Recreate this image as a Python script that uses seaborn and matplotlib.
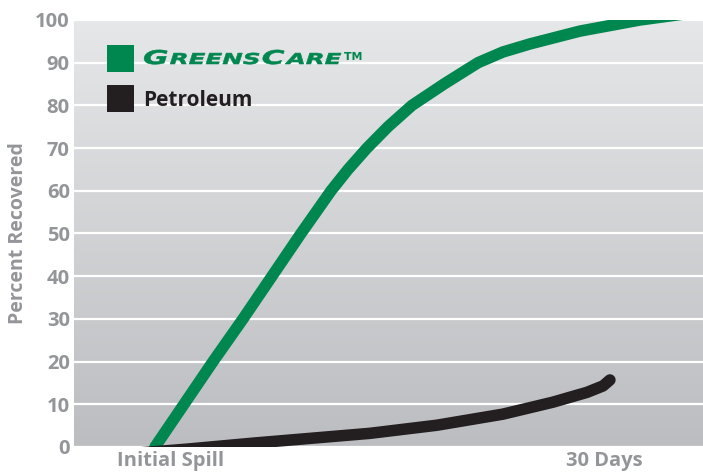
import numpy as np
import pandas as pd
import matplotlib.pyplot as plt
import seaborn as sns
from matplotlib.patches import Rectangle, PathPatch
from matplotlib.textpath import TextPath
from matplotlib.font_manager import FontProperties
from matplotlib.transforms import Affine2D

# Dados (dias desde o derramamento, % recuperado)
dias_greens = [-1.11, 0.90, 2.91, 4.99, 7.00, 9.01, 11.09, 12.27, 13.58, 15.04, 16.70,
               18.92, 21.28, 23.00, 24.88, 28.34, 32.50, 36.87]
rec_greens = [0, 10, 20, 30, 40, 50, 60, 65, 70, 75, 80, 85, 90, 92.5, 94.4, 97.4, 100, 102]

dias_petro = [-2.63, 1.11, 5.68, 13.79, 18.43, 23.01, 26.47, 28.83, 29.94, 30.42]
rec_petro = [-1.5, -0.5, 0.9, 3.2, 5.1, 7.7, 10.5, 12.8, 14.3, 15.7]

ticks_x = [0, 30]
rotulos_x = ['Initial Spill', '30 Days']
ticks_y = list(range(0, 101, 10))

verde = '#00874f'
preto = '#231f20'
cinza = '#939598'

df = pd.concat([
    pd.DataFrame({'Dias': dias_greens, 'Recuperado': rec_greens, 'Produto': 'GreensCare'}),
    pd.DataFrame({'Dias': dias_petro, 'Recuperado': rec_petro, 'Produto': 'Petroleum'}),
])

sns.set_style('white')
plt.rcParams['font.family'] = ['Open Sans', 'DejaVu Sans']

fig = plt.figure(figsize=(7.03, 4.75), dpi=100)
ax = fig.add_axes([74 / 703, 28 / 475, 629 / 703, 427 / 475])

xmin, xmax = -6.72, 36.87
# fundo em degradê
topo = np.array([230, 231, 233]) / 255
base = np.array([188, 189, 192]) / 255
t = np.linspace(0, 1, 256)[:, None]
grad = (topo * (1 - t) + base * t)[:, None, :]
ax.imshow(grad, extent=[xmin, xmax, 0, 100], aspect='auto', zorder=0, origin='upper')

sns.lineplot(data=df, x='Dias', y='Recuperado', hue='Produto',
             palette={'GreensCare': verde, 'Petroleum': preto},
             linewidth=8.3, legend=False, ax=ax, zorder=3,
             solid_capstyle='round', solid_joinstyle='round')

ax.set_xlim(xmin, xmax)
ax.set_ylim(0, 100)
ax.set_yticks(ticks_y)
ax.set_xticks(ticks_x)
ax.set_xticklabels(rotulos_x)
ax.yaxis.grid(True, color='white', linewidth=1.6, zorder=1)
ax.xaxis.grid(False)
for s in ax.spines.values():
    s.set_visible(False)
ax.tick_params(axis='both', length=0, labelsize=14.5, labelcolor=cinza)
ax.tick_params(axis='y', pad=3)
ax.tick_params(axis='x', pad=3)
for lbl in ax.get_xticklabels() + ax.get_yticklabels():
    lbl.set_fontweight('bold')
ax.set_xlabel('')
ax.set_ylabel('Percent Recovered', fontsize=14, fontweight='bold', color=cinza, labelpad=5)


def px(x, y):
    return x / 703, (475 - y) / 475


# legenda manual
for y0, cor in [(45, verde), (85, preto)]:
    x0, yb = px(107, y0 + 27)
    fig.add_artist(Rectangle((x0, yb), 27 / 703, 27 / 475, transform=fig.transFigure,
                             facecolor=cor, edgecolor='none'))

fig.text(*px(143, 106), 'Petroleum', fontsize=15, fontweight='bold', color=preto, va='baseline')

# GreensCare em versalete, alargado
fp = FontProperties(family='DejaVu Sans', weight='bold', style='italic')
pecas = [('G', 19), ('REENS', 15), ('C', 19), ('ARE', 15)]
caminhos = []
xc = 0
for txt, tam in pecas:
    tp = TextPath((xc, 0), txt, size=tam, prop=fp)
    caminhos.append(tp)
    xc = tp.get_extents().x1 + 1.5
largura = xc - 1.5 - caminhos[0].get_extents().x0
sx = 197 / largura
for tp in caminhos:
    tr = Affine2D().scale(sx, 1).translate(143, 475 - 64)
    fig.add_artist(PathPatch(tp, transform=tr, facecolor=verde, edgecolor=verde, linewidth=0.4))
tm = TextPath((0, 0), 'TM', size=11, prop=FontProperties(family='DejaVu Sans', weight='bold'))
fig.add_artist(PathPatch(tm, transform=Affine2D().translate(344, 475 - 60),
                         facecolor=verde, edgecolor='none'))

fig.savefig('out.png', dpi=100)
